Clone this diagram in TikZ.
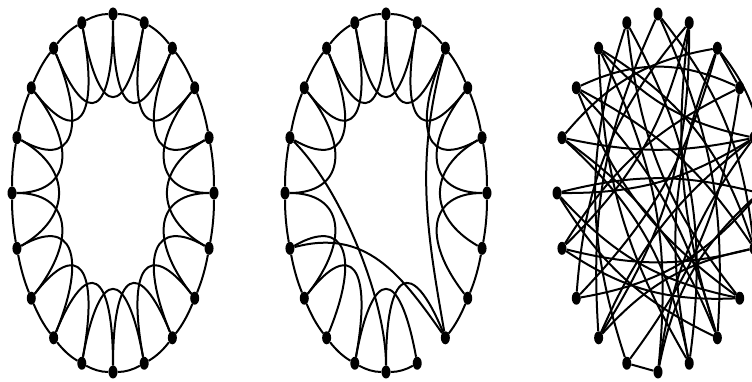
\documentclass[tikz,border=0pt]{standalone}
\usetikzlibrary{shapes.geometric,calc}

\newcommand{\ringrx}{101}
\newcommand{\ringry}{179}

\begin{document}
\begin{tikzpicture}[
        x=1pt, y=1pt,
        dot/.style={ellipse,fill=black,inner sep=0pt,minimum width=9pt,minimum height=13pt},
        link/.style={line width=2pt,black},
        ring/.style={link,looseness=0.85},
    ]

    \useasboundingbox (0,-189) rectangle (752,193);
    \clip (0,-189) rectangle (752,193);

    \coordinate (oreg) at (113,0);
    \coordinate (osw) at (386,0);
    \coordinate (ornd) at (658,0);

    % the three rings of 20 nodes
    \foreach \i in {0,...,19} {
        \node[dot] (reg\i) at ($(oreg)+({\ringrx*cos(90+18*\i)},{\ringry*sin(90+18*\i)})$) {};
        \node[dot] (sw\i) at ($(osw)+({\ringrx*cos(90+18*\i)},{\ringry*sin(90+18*\i)})$) {};
        \node[dot] (rnd\i) at ($(ornd)+({\ringrx*cos(90+18*\i)},{\ringry*sin(90+18*\i)})$) {};
    }

    % nearest neighbours, along the ellipse
    \foreach \i in {0,...,19} {
        \pgfmathtruncatemacro\j{mod(\i+1,20)}
        \pgfmathsetmacro\oa{atan2(\ringry*cos(90+18*\i),-\ringrx*sin(90+18*\i))}
        \pgfmathsetmacro\ib{atan2(-\ringry*cos(108+18*\i),\ringrx*sin(108+18*\i))}
        \draw[ring] (reg\i) to[out=\oa,in=\ib] (reg\j);
        \ifnum\i=11\else
            \draw[ring] (sw\i) to[out=\oa,in=\ib] (sw\j);
        \fi
    }

    % second neighbours, bent inwards
    \foreach \i in {0,...,19} {
        \pgfmathtruncatemacro\k{mod(\i+2,20)}
        \draw[link] (reg\i) .. controls ($(reg\i.center)!0.57!(oreg)$) and ($(reg\k.center)!0.57!(oreg)$) .. (reg\k);
    }
    \foreach \i in {0,1,2,3,5,6,7,9,10,13,14,15,16,17,18,19} {
        \pgfmathtruncatemacro\k{mod(\i+2,20)}
        \draw[link] (sw\i) .. controls ($(sw\i.center)!0.57!(osw)$) and ($(sw\k.center)!0.57!(osw)$) .. (sw\k);
    }

    % rewired shortcuts
    \draw[link]
    (sw4) edge[out=-45,in=90,looseness=0.7] (sw10)
    (sw6) edge[out=15,in=125,looseness=1.1] (sw12)
    (sw18) edge[out=255,in=100] (sw12)
    ;

    % random graph
    \foreach \a/\b/\c in {17/18/0, 9/10/0, 3/17/25, 4/16/-12, 5/15/14, 6/14/-14,
            0/12/14, 0/8/-14, 1/11/18, 1/13/-16, 19/8/16, 19/7/-18, 2/14/20,
            2/11/-14, 3/13/-16, 4/18/20, 5/16/-16, 6/17/16, 7/15/-20, 8/16/14,
            9/17/-14, 9/1/18, 10/2/-16, 10/15/18, 11/4/-18, 12/5/16, 12/3/-14,
            13/6/18, 14/0/-16, 15/18/-22, 16/10/-14, 18/7/14, 19/12/-12, 11/18/16,
            2/16/-18, 3/14/14, 5/13/-18, 4/12/16, 6/19/-16, 8/14/18} {
        \draw[link] (rnd\a) to[bend left=\c] (rnd\b);
    }

\end{tikzpicture}
\end{document}
